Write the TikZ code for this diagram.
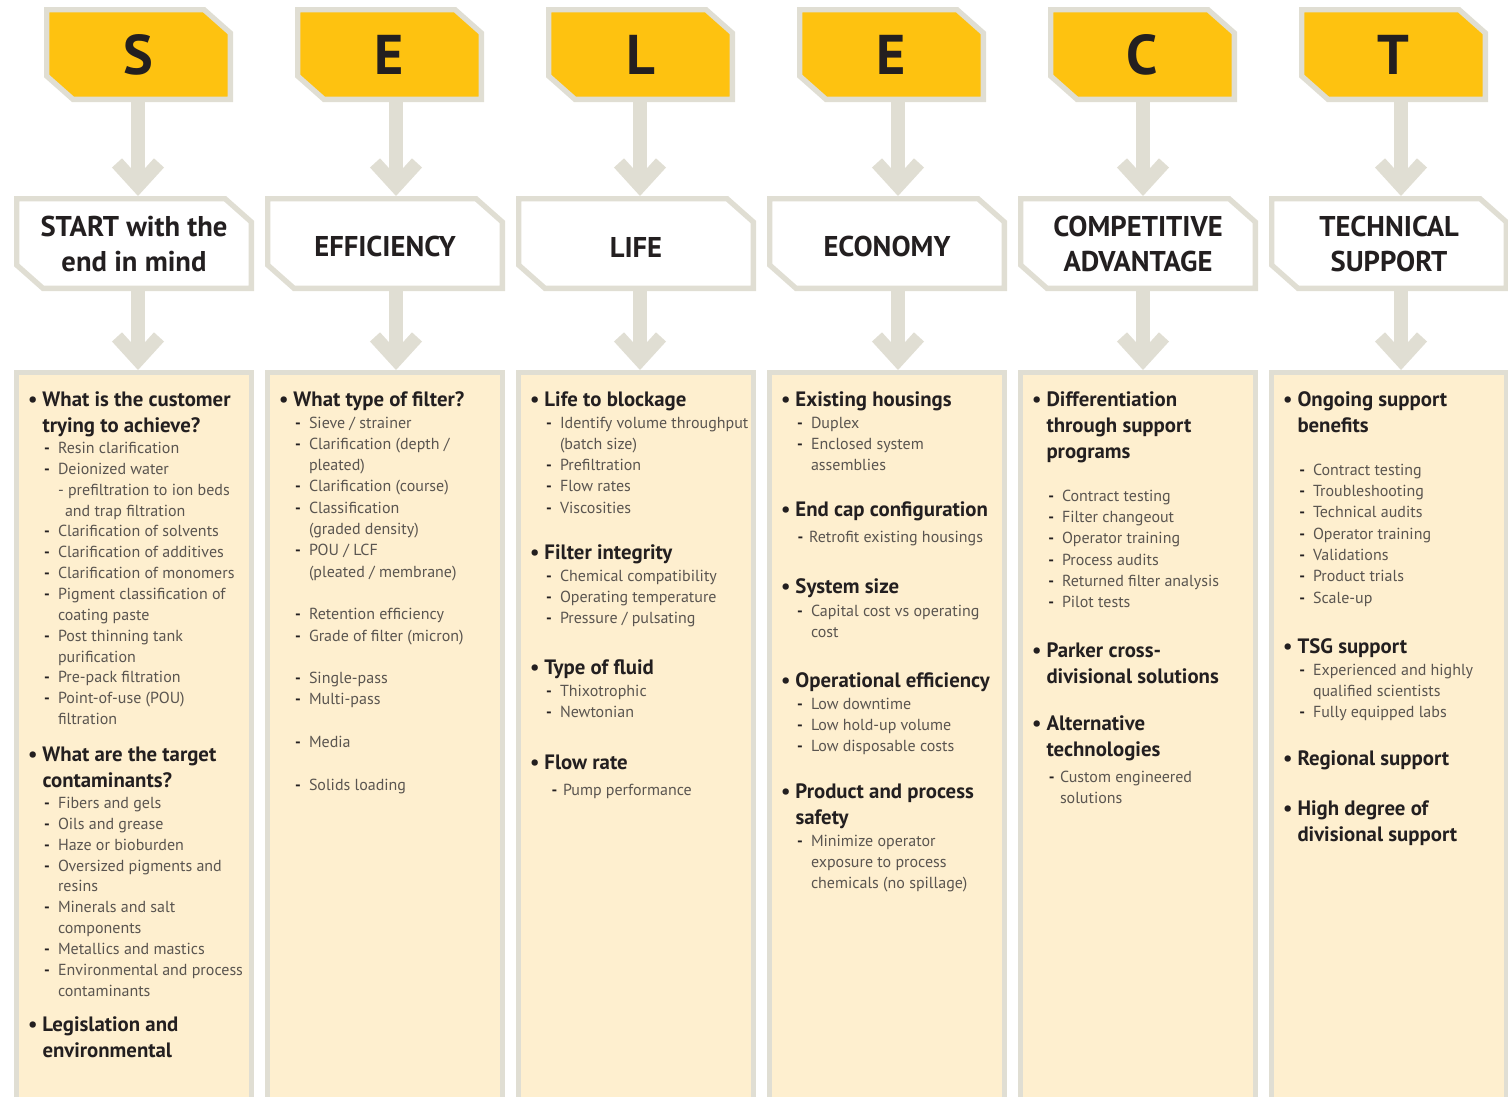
\documentclass[tikz,border=0pt]{standalone}
\usepackage{fontspec}
\setmainfont{PT Sans}
\usepackage{xcolor}
\usepackage{tikz}
\usetikzlibrary{positioning,arrows.meta}

\definecolor{selyellow}{HTML}{FEC210}
\definecolor{edgegrey}{HTML}{E0DED3}
\definecolor{cream}{HTML}{FEEFCF}
\definecolor{ink}{HTML}{231F20}
\definecolor{bodygrey}{HTML}{5A5550}

% line spacing of the list entries
\newcommand{\itemlead}{21.3}
% bold bullet heading
\newcommand{\hd}[1]{{\noindent\fontsize{20.8}{26}\selectfont\bfseries\color{ink}%
  \llap{\textbullet\hspace{5pt}}#1\par}\vspace{0.7pt}}
% dash entry
\newcommand{\itm}[1]{{\noindent\fontsize{16}{\itemlead}\selectfont\color{bodygrey}%
  \hangindent=15.5pt\hspace*{15.5pt}\llap{\textcolor{ink}{\textbf{-}}\hspace{8pt}}#1\par}}
% dash entry with a tighter dash
\newcommand{\itmt}[2]{{\noindent\fontsize{16}{\itemlead}\selectfont\color{bodygrey}%
  \hangindent=#1\hspace*{#1}\llap{\textcolor{ink}{\textbf{-}}\hspace{5.5pt}}#2\par}}
% second level entry
\newcommand{\sitm}[1]{{\noindent\fontsize{16}{\itemlead}\selectfont\color{bodygrey}%
  \hangindent=22.5pt\hspace*{15.5pt}#1\par}}
\newcommand{\gap}{\vspace{\itemlead pt}}

\begin{document}
\begin{tikzpicture}[x=1pt, y=-1pt,
    chamf/.style={rectangle, inner sep=0, outer sep=0, fill=white, path picture={
        \filldraw[fill=#1, draw=edgegrey, line width=5.3pt, line join=miter]
          ([shift={(2.65pt,-2.65pt)}]path picture bounding box.north west)
          -- ([shift={(-29pt,-2.65pt)}]path picture bounding box.north east)
          -- ([shift={(-2.65pt,-26pt)}]path picture bounding box.north east)
          -- ([shift={(-2.65pt,2.65pt)}]path picture bounding box.south east)
          -- ([shift={(29pt,2.65pt)}]path picture bounding box.south west)
          -- ([shift={(2.65pt,26pt)}]path picture bounding box.south west)
          -- cycle;}},
    letbox/.style={chamf=selyellow, minimum width=189, minimum height=95, text=ink,
        font=\fontsize{56}{56}\selectfont\bfseries},
    ttlbox/.style={chamf=white, minimum width=240, minimum height=95, text=ink, align=center,
        font=\fontsize{28.6}{35}\selectfont\bfseries,
        execute at begin node={\rule{0pt}{27pt}}},
    panel/.style={rectangle, anchor=north, fill=cream, draw=edgegrey, line width=5.3pt,
        minimum width=234.7, minimum height=780},
    flow/.style={draw=edgegrey, line width=13.6pt,
        -{Straight Barb[length=23pt, width=42pt, line width=13.6pt]}},
    grp/.style={anchor=base west, inner sep=0, outer sep=0,
        execute at begin node={\begin{minipage}[t]{240pt}},
        execute at end node={\end{minipage}}}]

    \useasboundingbox (0,0) rectangle (1508,1096);

    % Letter boxes
    \node[letbox] (letS) at (138.5,54.5) {S};
    \node[letbox] (letE) at (389.5,54.5) {E};
    \node[letbox] (letL) at (640.5,54.5) {L};
    \node[letbox] (letEc) at (891.5,54.5) {E};
    \node[letbox] (letC) at (1142.5,54.5) {C};
    \node[letbox] (letT) at (1393.5,54.5) {T};

    % Title boxes
    \node[ttlbox] (ttlS) at (134,243.5) {START with the\\end in mind};
    \node[ttlbox] (ttlE) at (385,243.5) {EFFICIENCY};
    \node[ttlbox] (ttlL) at (636,243.5) {LIFE};
    \node[ttlbox] (ttlEc) at (887,243.5) {ECONOMY};
    \node[ttlbox] (ttlC) at (1138,243.5) {COMPETITIVE\\ADVANTAGE};
    \node[ttlbox] (ttlT) at (1389,243.5) {TECHNICAL\\SUPPORT};

    % Panels
    \node[panel] (panS) at (134,370) {};
    \node[panel] (panE) at (385,370) {};
    \node[panel] (panL) at (636,370) {};
    \node[panel] (panEc) at (887,370) {};
    \node[panel] (panC) at (1138,370) {};
    \node[panel] (panT) at (1389,370) {};

    % Arrows
    \coordinate (aS) at (138,0);
    \coordinate (aE) at (396,0);
    \coordinate (aL) at (640,0);
    \coordinate (aEc) at (898,0);
    \coordinate (aC) at (1143,0);
    \coordinate (aT) at (1401,0);
    \draw[flow] (aS |- letS.south) -- (aS |- ttlS.north);
    \draw[flow] (aS |- ttlS.south) -- (aS |- panS.north);
    \draw[flow] (aE |- letE.south) -- (aE |- ttlE.north);
    \draw[flow] (aE |- ttlE.south) -- (aE |- panE.north);
    \draw[flow] (aL |- letL.south) -- (aL |- ttlL.north);
    \draw[flow] (aL |- ttlL.south) -- (aL |- panL.north);
    \draw[flow] (aEc |- letEc.south) -- (aEc |- ttlEc.north);
    \draw[flow] (aEc |- ttlEc.south) -- (aEc |- panEc.north);
    \draw[flow] (aC |- letC.south) -- (aC |- ttlC.north);
    \draw[flow] (aC |- ttlC.south) -- (aC |- panC.north);
    \draw[flow] (aT |- letT.south) -- (aT |- ttlT.north);
    \draw[flow] (aT |- ttlT.south) -- (aT |- panT.north);

    % START column
    \node[grp] (s1) at (42.5,406) {\renewcommand{\itemlead}{20.85}%
        \hd{What is the customer\\trying to achieve?}
        \itm{Resin clarification}
        \itm{Deionized water}
        \sitm{- prefiltration to ion beds\\and trap filtration}
        \itm{Clarification of solvents}
        \itm{Clarification of additives}
        \itm{Clarification of monomers}
        \itm{Pigment classification of\\coating paste}
        \itm{Post thinning tank\\purification}
        \itm{Pre-pack filtration}
        \itm{Point-of-use (POU)\\filtration}};
    \node[grp] (s2) at (42.5,761) {\renewcommand{\itemlead}{20.85}%
        \hd{What are the target\\contaminants?}
        \itm{Fibers and gels}
        \itm{Oils and grease}
        \itm{Haze or bioburden}
        \itm{Oversized pigments and\\resins}
        \itm{Minerals and salt\\components}
        \itm{Metallics and mastics}
        \itm{Environmental and process\\contaminants}};
    \node[grp] (s3) at (42.5,1031) {\hd{Legislation and\\environmental}};

    % EFFICIENCY column
    \node[grp] (ef1) at (293.5,406) {\hd{What type of filter?}
        \itm{Sieve / strainer}
        \itm{Clarification (depth /\\pleated)}
        \itm{Clarification (course)}
        \itm{Classification\\(graded density)}
        \itm{POU / LCF\\(pleated / membrane)}
        \gap
        \itm{Retention efficiency}
        \itm{Grade of filter (micron)}
        \gap
        \itm{Single-pass}
        \itm{Multi-pass}
        \gap
        \itm{Media}
        \gap
        \itm{Solids loading}};

    % LIFE column
    \node[grp] (l1) at (544.5,406) {\hd{Life to blockage}
        \itm{Identify volume throughput\\(batch size)}
        \itm{Prefiltration}
        \itm{Flow rates}
        \itm{Viscosities}};
    \node[grp] (l2) at (544.5,559) {\hd{Filter integrity}
        \itm{Chemical compatibility}
        \itm{Operating temperature}
        \itm{Pressure / pulsating}};
    \node[grp] (l3) at (544.5,674) {\hd{Type of fluid}
        \itm{Thixotrophic}
        \itm{Newtonian}};
    \node[grp] (l4) at (544.5,769) {\hd{Flow rate}\vspace{4pt}
        \itmt{18.5pt}{Pump performance}};

    % ECONOMY column
    \node[grp] (ec1) at (795.5,406) {\hd{Existing housings}
        \itm{Duplex}
        \itm{Enclosed system\\assemblies}};
    \node[grp] (ec2) at (795.5,516) {\hd{End cap configuration}\vspace{4.5pt}
        \itmt{13.5pt}{Retrofit existing housings}};
    \node[grp] (ec3) at (795.5,593) {\hd{System size}\vspace{1pt}
        \itm{Capital cost vs operating\\cost}};
    \node[grp] (ec4) at (795.5,687) {\hd{Operational efficiency}
        \itm{Low downtime}
        \itm{Low hold-up volume}
        \itm{Low disposable costs}};
    \node[grp] (ec5) at (795.5,798) {\hd{Product and process\\safety}
        \itm{Minimize operator\\exposure to process\\chemicals (no spillage)}};

    % COMPETITIVE ADVANTAGE column
    \node[grp] (c1) at (1046.5,406) {\hd{Differentiation\\through support\\programs}
        \gap
        \itm{Contract testing}
        \itm{Filter changeout}
        \itm{Operator training}
        \itm{Process audits}
        \itm{Returned filter analysis}
        \itm{Pilot tests}};
    \node[grp] (c2) at (1046.5,657) {\hd{Parker cross-\\divisional solutions}};
    \node[grp] (c3) at (1046.5,730) {\hd{Alternative\\technologies}\vspace{4pt}
        \itmt{13.5pt}{Custom engineered\\solutions}};

    % TECHNICAL SUPPORT column
    \node[grp] (t1) at (1297.5,406) {\hd{Ongoing support\\benefits}
        \gap
        \itm{Contract testing}
        \itm{Troubleshooting}
        \itm{Technical audits}
        \itm{Operator training}
        \itm{Validations}
        \itm{Product trials}
        \itm{Scale-up}};
    \node[grp] (t2) at (1297.5,653) {\hd{TSG support}
        \itm{Experienced and highly\\qualified scientists}
        \itm{Fully equipped labs}};
    \node[grp] (t3) at (1297.5,765) {\hd{Regional support}};
    \node[grp] (t4) at (1297.5,815) {\hd{High degree of\\divisional support}};
\end{tikzpicture}
\end{document}
